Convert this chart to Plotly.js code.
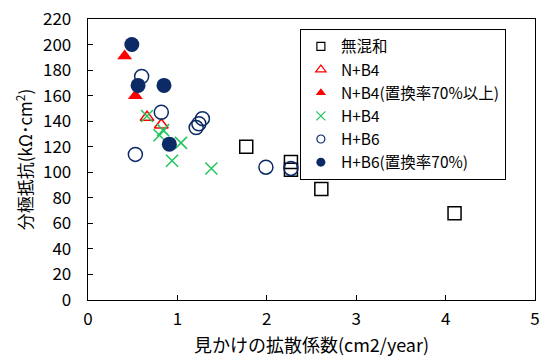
<!DOCTYPE html>
<html>
<head>
<meta charset="utf-8">
<script src="https://cdn.plot.ly/plotly-3.0.1.min.js"></script>
<style>html,body{margin:0;padding:0;background:#fff;}#chart{width:545px;height:362px;}</style>
</head>
<body>
<div id="chart"></div>
<script>
// Data
const seriesNames = ["無混和", "N+B4", "N+B4(置換率70%以上)", "H+B4", "H+B6", "H+B6(置換率70%)"];
const plainX = [1.77, 2.27, 2.27, 2.61, 4.10];
const plainY = [120, 108, 102, 87, 68];
const nb4X = [0.66, 0.82];
const nb4Y = [143, 137];
const nb4HighX = [0.41, 0.53];
const nb4HighY = [191, 160];
const hb4X = [0.66, 0.80, 0.84, 1.04, 0.94, 1.38];
const hb4Y = [144, 129, 133, 123, 109, 103];
const hb6X = [0.60, 0.82, 0.53, 1.21, 1.24, 1.28, 1.99, 2.27];
const hb6Y = [175, 147, 114, 135, 138, 142, 104, 103];
const hb6HighX = [0.49, 0.56, 0.85, 0.91];
const hb6HighY = [200, 168, 168, 122];
const xTickVals = [0, 1, 2, 3, 4, 5];
const yTickVals = [0, 20, 40, 60, 80, 100, 120, 140, 160, 180, 200, 220];

const NAVY = '#0b2a66';
const RED = '#ff0000';
const GREEN = '#22c55e';

const styles = [
  {symbol: 'square-open', color: '#000000', line: {color: '#000000', width: 1.5}, size: 13, lsize: 8},
  {symbol: 'triangle-up-open', color: RED, line: {color: RED, width: 1.5}, size: 12, lsize: 9},
  {symbol: 'triangle-up', color: RED, line: {color: RED, width: 0}, size: 13, lsize: 9},
  {symbol: 'x-thin-open', color: GREEN, line: {color: GREEN, width: 1.5}, size: 12, lsize: 9},
  {symbol: 'circle-open', color: NAVY, line: {color: NAVY, width: 1.5}, size: 14, lsize: 8},
  {symbol: 'circle', color: NAVY, line: {color: NAVY, width: 0}, size: 15, lsize: 9}
];
const xs = [plainX, nb4X, nb4HighX, hb4X, hb6X, hb6HighX];
const ys = [plainY, nb4Y, nb4HighY, hb4Y, hb6Y, hb6HighY];

const traces = [];
for (let i = 0; i < seriesNames.length; i++) {
  const s = styles[i];
  traces.push({
    type: 'scatter', mode: 'markers', x: xs[i], y: ys[i], name: seriesNames[i],
    showlegend: false, hoverinfo: 'x+y',
    marker: {symbol: s.symbol, size: s.size, color: s.color, line: s.line}
  });
}
// legend-only entries (smaller legend symbols as in the reference)
for (let i = 0; i < seriesNames.length; i++) {
  const s = styles[i];
  traces.push({
    type: 'scatter', mode: 'markers', x: [null], y: [null], name: seriesNames[i],
    showlegend: true, hoverinfo: 'skip',
    marker: {symbol: s.symbol, size: s.lsize, color: s.color, line: {color: s.line.color, width: s.line.width ? 1.2 : 0}}
  });
}

const FONT = '"Noto Sans CJK JP", "Noto Sans", sans-serif';
const layout = {
  width: 545, height: 362,
  margin: {l: 88, r: 10, t: 19, b: 62},
  paper_bgcolor: '#ffffff', plot_bgcolor: '#ffffff',
  font: {family: FONT, size: 16, color: '#000000'},
  showlegend: true,
  legend: {
    x: 0.474, y: 0.965, xanchor: 'left', yanchor: 'top',
    bordercolor: '#000000', borderwidth: 1, bgcolor: '#ffffff',
    font: {family: FONT, size: 15.5, color: '#000000'},
    itemsizing: 'trace', tracegroupgap: 0, itemwidth: 30
  },
  xaxis: {
    range: [0, 5], tickvals: xTickVals, ticktext: xTickVals.map(String),
    ticks: 'inside', ticklen: 5, tickwidth: 1, tickcolor: '#000',
    showline: true, linecolor: '#000', linewidth: 1.3, mirror: true,
    showgrid: false, zeroline: false, ticklabelstandoff: 3,
    tickfont: {family: FONT, size: 17},
    title: {text: '見かけの拡散係数(cm2/year)', font: {family: FONT, size: 18}, standoff: 10}
  },
  yaxis: {
    range: [0, 220], tickvals: yTickVals, ticktext: yTickVals.map(String),
    ticks: 'inside', ticklen: 5, tickwidth: 1, tickcolor: '#000',
    showline: true, linecolor: '#000', linewidth: 1.3, mirror: true,
    showgrid: false, zeroline: false, ticklabelstandoff: 12,
    tickfont: {family: FONT, size: 17},
    title: {text: '分極抵抗(kΩ･cm<sup>2</sup>)', font: {family: FONT, size: 17}, standoff: 6}
  }
};

Plotly.newPlot('chart', traces, layout, {displayModeBar: false, staticPlot: true});
</script>
</body>
</html>
